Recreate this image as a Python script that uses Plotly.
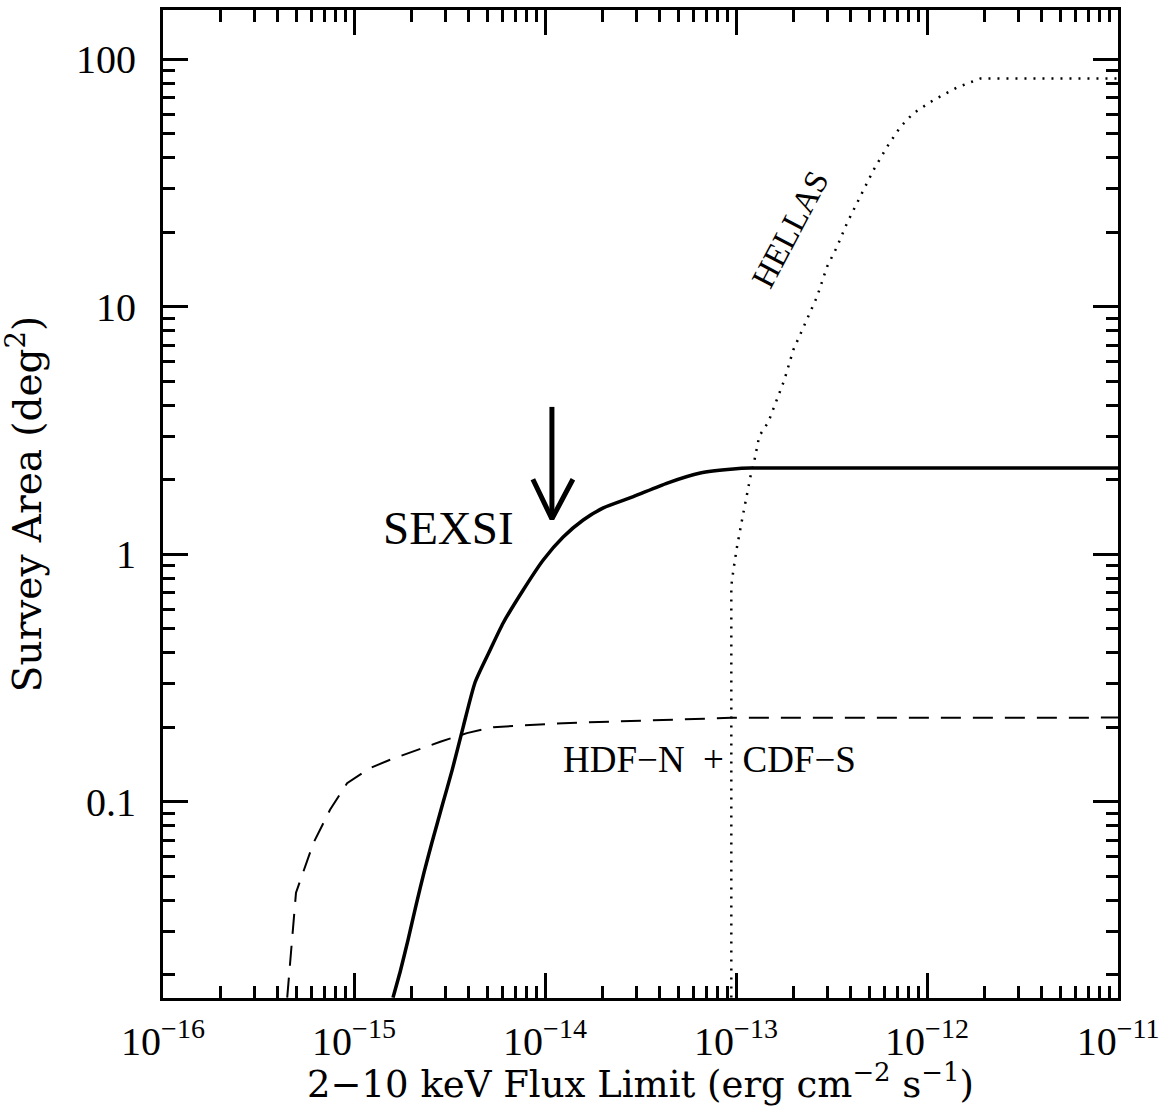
import numpy as np
import plotly.graph_objects as go

# ---------------- data ----------------
sexsi_flux = [1.60e-15, 1.75e-15, 1.92e-15, 2.115e-15, 2.33e-15, 2.565e-15, 2.893e-15,
              3.27e-15, 3.73e-15, 4.31e-15, 5.16e-15, 6.04e-15, 7.69e-15, 9.79e-15,
              1.245e-14, 1.585e-14, 2.02e-14, 2.90e-14, 4.37e-14, 6.50e-14, 9.68e-14,
              1.19e-13, 1.0e-11]
sexsi_area = [0.0162, 0.0208, 0.0278, 0.0384, 0.0522, 0.0690, 0.0964,
              0.135, 0.201, 0.305, 0.411, 0.528, 0.718, 0.949,
              1.175, 1.376, 1.54, 1.71, 1.94, 2.13, 2.21,
              2.23, 2.23]

deep_flux = [4.47e-16, 4.97e-16, 6.13e-16, 7.49e-16, 9.20e-16, 1.214e-15, 1.545e-15,
             2.83e-15, 3.90e-15, 5.36e-15, 1.245e-14, 9.44e-14, 1.0e-11]
deep_area = [0.0162, 0.0430, 0.0682, 0.0929, 0.119, 0.137, 0.148,
             0.175, 0.1896, 0.2004, 0.208, 0.2185, 0.219]

hellas_flux = [9.45e-14, 9.45e-14, 9.71e-14, 1.012e-13, 1.085e-13, 1.146e-13, 1.195e-13,
               1.247e-13, 1.324e-13, 1.476e-13, 1.639e-13, 1.791e-13, 1.995e-13,
               2.354e-13, 2.656e-13, 2.997e-13, 3.38e-13, 3.815e-13, 4.48e-13,
               5.24e-13, 6.18e-13, 7.26e-13, 8.49e-13, 1.080e-12, 1.438e-12,
               1.905e-12, 1.0e-11]
hellas_area = [0.0162, 0.745, 0.873, 1.071, 1.429, 1.770, 2.092,
               2.383, 3.006, 3.42, 4.20, 5.06, 6.69,
               8.84, 10.97, 14.5, 17.47, 21.8, 27.8,
               35.6, 44.3, 53.3, 60.5, 68.3, 76.9,
               83.6, 83.6]

# arrow marking the SEXSI limit
arrow_flux = 1.087e-14
arrow_top = 3.94
arrow_tip = 1.39
arrow_wing_flux = [8.64e-15, 1.40e-14]
arrow_wing_area = 2.01

x_tick_vals = [1e-16, 1e-15, 1e-14, 1e-13, 1e-12, 1e-11]
x_tick_text = ["10<sup>\u221216</sup>", "10<sup>\u221215</sup>", "10<sup>\u221214</sup>",
               "10<sup>\u221213</sup>", "10<sup>\u221212</sup>", "10<sup>\u221211</sup>"]
y_tick_vals = [0.1, 1, 10, 100]
y_tick_text = ["0.1", "1", "10", "100"]

x_minor = [m * 10.0 ** e for e in range(-16, -11) for m in range(2, 10)]
y_minor = [m * 10.0 ** e for e in range(-2, 3) for m in range(2, 10)]

x_title = "2\u221210 keV Flux Limit (erg cm<sup>\u22122</sup> s<sup>\u22121</sup>)"
y_title = "Survey Area (deg<sup>2</sup>)"

# ---------------- figure ----------------
fig = go.Figure()
fig.add_trace(go.Scatter(x=sexsi_flux, y=sexsi_area, mode="lines",
                         line=dict(color="black", width=3.5, shape="spline", smoothing=0.6),
                         showlegend=False, hoverinfo="skip"))
fig.add_trace(go.Scatter(x=deep_flux, y=deep_area, mode="lines",
                         line=dict(color="black", width=2, dash="20px,12px"),
                         showlegend=False, hoverinfo="skip"))
fig.add_trace(go.Scatter(x=hellas_flux, y=hellas_area, mode="lines",
                         line=dict(color="black", width=2.5, dash="2px,7px"),
                         showlegend=False, hoverinfo="skip"))
fig.add_trace(go.Scatter(x=[arrow_flux, arrow_flux], y=[arrow_top, arrow_tip], mode="lines",
                         line=dict(color="black", width=5),
                         showlegend=False, hoverinfo="skip"))
fig.add_trace(go.Scatter(x=[arrow_wing_flux[0], arrow_flux, arrow_wing_flux[1]],
                         y=[arrow_wing_area, arrow_tip, arrow_wing_area], mode="lines",
                         line=dict(color="black", width=5),
                         showlegend=False, hoverinfo="skip"))

tick_font = dict(family="Liberation Serif", size=40, color="black")
title_font = dict(family="DejaVu Serif", size=37, color="black")

fig.update_xaxes(type="log", range=[-16, -11], automargin=False,
                 tickmode="array", tickvals=x_tick_vals, ticktext=x_tick_text,
                 ticks="inside", ticklen=25, tickwidth=2.5, tickcolor="black",
                 minor=dict(tickmode="array", tickvals=x_minor, ticks="inside",
                            ticklen=12, tickwidth=2.5, tickcolor="black", showgrid=False),
                 showline=True, linewidth=3, linecolor="black", mirror="allticks",
                 showgrid=False, zeroline=False, tickfont=tick_font,
                 ticklabelstandoff=6)
fig.update_yaxes(type="log", range=[np.log10(0.01614), np.log10(158)], automargin=False,
                 tickmode="array", tickvals=y_tick_vals, ticktext=y_tick_text,
                 ticks="inside", ticklen=25, tickwidth=2.5, tickcolor="black",
                 minor=dict(tickmode="array", tickvals=y_minor, ticks="inside",
                            ticklen=12, tickwidth=2.5, tickcolor="black", showgrid=False),
                 showline=True, linewidth=3, linecolor="black", mirror="allticks",
                 showgrid=False, zeroline=False, tickfont=tick_font,
                 ticklabelstandoff=16,
                 title=dict(text=y_title, font=dict(family="DejaVu Serif", size=39, color="black"),
                            standoff=26))

# x-axis title as a paper-positioned annotation below the tick labels
fig.add_annotation(x=0.5, y=-0.0845, xref="paper", yref="paper", text=x_title,
                   showarrow=False, xanchor="center", yanchor="middle", font=title_font)

fig.add_annotation(x=-14.507, y=0.1066, xref="x", yref="y", text="SEXSI", showarrow=False,
                   font=dict(family="Liberation Serif", size=47, color="black"))
fig.add_annotation(x=-12.7155, y=1.3137, xref="x", yref="y", text="HELLAS", showarrow=False,
                   textangle=-62,
                   font=dict(family="Liberation Serif", size=33, color="black"))
fig.add_annotation(x=-13.140, y=-0.830, xref="x", yref="y", text="HDF\u2212N  +  CDF\u2212S",
                   showarrow=False,
                   font=dict(family="Liberation Serif", size=37, color="black"))

fig.update_layout(width=1173, height=1107,
                  margin=dict(l=163, r=55, t=10, b=109, autoexpand=False),
                  paper_bgcolor="white", plot_bgcolor="white")

fig.write_html("out.html")
